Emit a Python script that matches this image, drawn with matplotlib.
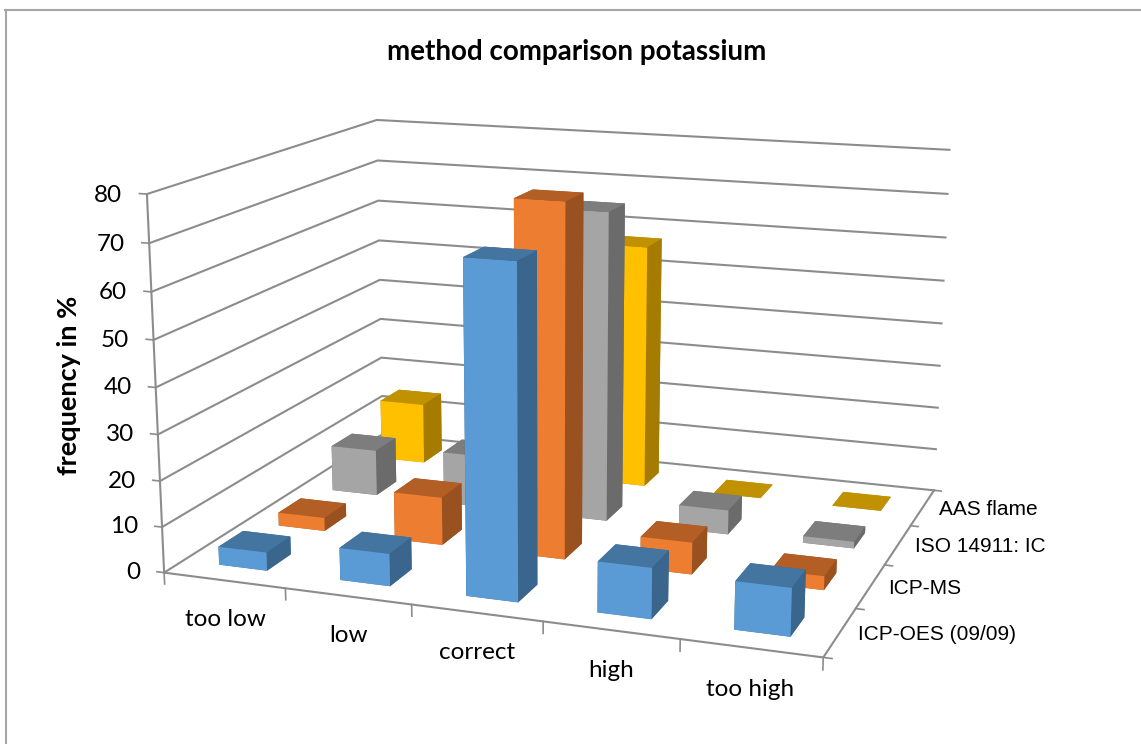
import numpy as np
import matplotlib
matplotlib.use("Agg")
import matplotlib.pyplot as plt
from mpl_toolkits.mplot3d import Axes3D

W, H = 1141, 744

categories = ["too low", "low", "correct", "high", "too high"]
series_names = ["ICP-OES (09/09)", "ICP-MS", "ISO 14911: IC", "AAS flame"]

icp_oes = [4, 7, 70, 10.7, 10]
icp_ms = [3, 10.7, 77, 7, 3]
iso_ic = [10.7, 12, 70, 5.5, 1.5]
aas_flame = [14.5, 10, 57, 0, 0]

z_ticks = [0, 10, 20, 30, 40, 50, 60, 70, 80]

# front, top, side colours for each series
front_cols = ["#5B9BD5", "#ED7D31", "#A5A5A5", "#FFC000"]
top_cols = ["#4475A1", "#B35E25", "#7D7D7D", "#C09100"]
side_cols = ["#3A658C", "#9A5120", "#6B6B6B", "#A67C00"]
grid_col = "#8C8C8C"

# picture positions of known chart points, used to solve the camera
calib = [
    (0, 0, 0, 165, 572), (0, 0, 80, 146, 194.3), (0, 4, 80, 377.3, 120),
    (5, 4, 80, 949.3, 150), (5, 0, 0, 823.3, 657.7), (5, 4, 0, 934, 490),
    (0, 4, 0, 382, 435), (0, 4, 40, 380, 279.3), (5, 4, 70, 947.7, 194),
    (1, 0, 0, 285.3, 588.3), (2, 0, 0, 411.7, 605),
    (5, 1, 0, 855.3, 609), (5, 2, 0, 884.3, 565), (5, 3, 0, 911, 525),
    (0, 0, 40, 156, 387),
]


def solve_camera(points, ax):
    # DLT, output in the 2D view coordinates of the axes
    rows = []
    inv = ax.transData.inverted()
    for x, y, z, px, py in points:
        u, v = inv.transform((px, H - py))
        rows.append([x, y, z, 1, 0, 0, 0, 0, -u*x, -u*y, -u*z, -u])
        rows.append([0, 0, 0, 0, x, y, z, 1, -v*x, -v*y, -v*z, -v])
    p = np.linalg.svd(np.array(rows, dtype=float))[2][-1].reshape(3, 4)
    if p[2] @ np.array([2.5, 2, 40, 1]) < 0:
        p = -p
    # third row only gives the depth order
    return np.array([p[0], p[1], [0, 0, 0, -1], p[2]])


def label(x, y, z, s, **kw):
    # plain 2D text at the projected position of a chart point
    px = M @ np.array([x, y, z, 1.0])
    ax.text2D(px[0]/px[3], px[1]/px[3], s, transform=ax.transData, zorder=100, **kw)


fig = plt.figure(figsize=(W/100, H/100), dpi=100)
ax = fig.add_axes([0, 0, 1, 1], projection="3d", computed_zorder=False)
ax.apply_aspect = lambda position=None: None
ax.set_position([0, 0, 1, 1])
ax.set_axis_off()
M = solve_camera(calib, ax)
ax.get_proj = lambda: M

zo = 1
# walls and floor lines
for z in z_ticks:
    ax.plot([0, 0, 5], [0, 4, 4], [z, z, z], color=grid_col, lw=1.5, zorder=zo)
ax.plot([0, 0], [0, 0], [0, 80], color=grid_col, lw=1.5, zorder=zo)
ax.plot([0, 5, 5], [0, 0, 4], [0, 0, 0], color=grid_col, lw=1.5, zorder=zo)
for z in z_ticks:
    ax.plot([-0.06, 0], [0, 0], [z, z], color=grid_col, lw=1.2, zorder=zo)
for i in range(6):
    ax.plot([i, i], [0, 0], [0, -2.5], color=grid_col, lw=1.2, zorder=zo)
for j in range(5):
    ax.plot([5, 5.06], [j, j], [0, 0], color=grid_col, lw=1.2, zorder=zo)

# bars, far ones first
bar_w = 0.4
values = [icp_oes, icp_ms, iso_ic, aas_flame]
for j in [3, 2, 1, 0]:
    for i in range(len(categories)):
        zo += 1
        # faces: bottom, top, -y, +y, -x, +x
        cols = [top_cols[j], top_cols[j], front_cols[j], side_cols[j], side_cols[j], side_cols[j]]
        ax.bar3d(i + 0.3, j + 0.3, 0, bar_w, bar_w, values[j][i], color=cols, shade=False,
                 zorder=zo, linewidth=0, edgecolor="none")

lab_font = ["Lato", "DejaVu Sans"]
for z in z_ticks:
    label(-0.2, 0, z - 0.6, str(z), ha="right", va="center", fontsize=17.5, family=lab_font)
for i, name in enumerate(categories):
    label(i + 0.5, 0, -8.5, name, ha="center", va="center", fontsize=17.5, family=lab_font)
for j, name in enumerate(series_names):
    label(5.13, j + 0.5, 0, name, ha="left", va="center", fontsize=15, family="Liberation Sans")

fig.text(577/W, 1 - 52/H, "method comparison potassium", ha="center", va="center",
         fontsize=20, fontweight="bold", family=lab_font)
fig.text(69/W, 1 - 385/H, "frequency in %", rotation=90, ha="center", va="center",
         fontsize=19.5, fontweight="bold", family=lab_font)

# chart border
fig.add_artist(plt.Line2D([6/W, 6/W], [0, 1 - 10/H], color="#A6A6A6", lw=1.5))
fig.add_artist(plt.Line2D([5.3/W, 1], [1 - 10/H, 1 - 10/H], color="#A6A6A6", lw=1.5))

fig.savefig("out.png", dpi=100)
